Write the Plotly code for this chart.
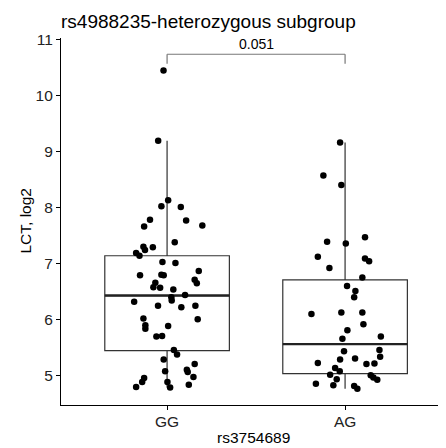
import plotly.graph_objects as go

# ---------------- data ----------------
categories = ["GG", "AG"]
cat_pos = [1, 2]

# GG group: jitter offsets from the category centre and LCT values (log2)
gg_jitter = [-0.05, 0.006, -0.032, 0.077, -0.096, -0.129, 0.107, 0.198, 0.043, -0.133,
             -0.080, -0.124, -0.174, -0.155, -0.026, 0.047, -0.152, -0.032, -0.019, 0.178,
             0.155, 0.167, -0.066, -0.077, -0.039, 0.035, 0.101, 0.024, 0.026, -0.185,
             -0.051, 0.080, 0.159, -0.133, 0.172, -0.122, -0.122, 0.006, -0.060, -0.028,
             0.038, 0.056, -0.019, 0.155, -0.011, 0.111, 0.116, 0.148, -0.129, -0.140,
             -0.174, 0.002, 0.017, 0.122, -0.02]
gg_values = [9.19, 8.13, 8.02, 8.01, 7.78, 7.66, 7.77, 7.68, 7.38, 7.30,
             7.29, 7.24, 7.19, 7.14, 7.03, 7.01, 6.79, 6.80, 6.79, 6.87,
             6.71, 6.65, 6.66, 6.58, 6.57, 6.54, 6.44, 6.40, 6.34, 6.32,
             6.25, 6.22, 6.25, 6.02, 6.01, 5.90, 5.84, 5.89, 5.70, 5.71,
             5.46, 5.38, 5.29, 5.21, 5.08, 5.11, 5.07, 4.98, 4.96, 4.89,
             4.80, 4.89, 4.79, 4.84, 10.44]

# AG group
ag_jitter = [-0.028, -0.122, -0.021, -0.101, 0.004, 0.112, -0.153, 0.112, 0.135, -0.088,
             0.097, 0.011, 0.058, 0.051, -0.189, -0.021, 0.097, 0.103, 0.013, -0.015,
             0.201, 0.193, -0.006, 0.197, -0.028, 0.056, -0.153, 0.120, 0.165, -0.056,
             -0.030, -0.084, -0.047, 0.144, 0.159, 0.181, -0.164, -0.066, 0.051, 0.069]
ag_values = [9.16, 8.57, 8.40, 7.39, 7.36, 7.47, 7.12, 7.09, 7.04, 6.92,
             6.75, 6.60, 6.51, 6.40, 6.10, 6.13, 6.13, 5.92, 5.81, 5.66,
             5.70, 5.46, 5.44, 5.34, 5.29, 5.31, 5.23, 5.21, 5.22, 5.14,
             5.08, 5.02, 4.94, 5.01, 4.97, 4.93, 4.86, 4.83, 4.82, 4.77]

# box statistics (as drawn)
box_q1 = [5.45, 5.04]
box_median = [6.43, 5.565]
box_q3 = [7.14, 6.71]
box_low = [4.79, 4.77]
box_high = [9.19, 9.16]

p_value_label = "0.051"
bracket_y = 10.73
bracket_tip = 10.56

y_ticks = [5, 6, 7, 8, 9, 10, 11]

# ---------------- figure ----------------
FONT = "Liberation Sans, Arial, Helvetica, sans-serif"
box_w = 0.7
# the page body keeps an 8px margin, so the figure is sized to fit the window
FIG_W, FIG_H = 438, 440

fig = go.Figure()

fig.add_trace(go.Box(
    x=cat_pos, q1=box_q1, median=box_median, q3=box_q3,
    lowerfence=box_low, upperfence=box_high,
    width=box_w, whiskerwidth=0,
    line=dict(color="#333333", width=1.2),
    fillcolor="rgba(0,0,0,0)",
    boxpoints=False, showlegend=False, hoverinfo="skip",
))

# thicker median lines
for xc, m in zip(cat_pos, box_median):
    fig.add_trace(go.Scatter(
        x=[xc - box_w / 2, xc + box_w / 2], y=[m, m], mode="lines",
        line=dict(color="#222222", width=2.4), showlegend=False, hoverinfo="skip",
    ))

fig.add_trace(go.Scatter(
    x=[cat_pos[0] + j for j in gg_jitter], y=gg_values, mode="markers",
    marker=dict(color="black", size=6.5), showlegend=False,
))
fig.add_trace(go.Scatter(
    x=[cat_pos[1] + j for j in ag_jitter], y=ag_values, mode="markers",
    marker=dict(color="black", size=6.5), showlegend=False,
))

# significance bracket
bracket_color = "#777777"
fig.add_shape(type="line", x0=cat_pos[0], x1=cat_pos[0], y0=bracket_tip, y1=bracket_y,
              line=dict(color=bracket_color, width=1.2))
fig.add_shape(type="line", x0=cat_pos[0], x1=cat_pos[1], y0=bracket_y, y1=bracket_y,
              line=dict(color=bracket_color, width=1.2))
fig.add_shape(type="line", x0=cat_pos[1], x1=cat_pos[1], y0=bracket_tip, y1=bracket_y,
              line=dict(color=bracket_color, width=1.2))
fig.add_annotation(x=(cat_pos[0] + cat_pos[1]) / 2, y=bracket_y, text=p_value_label,
                   showarrow=False, yanchor="bottom", yshift=0,
                   font=dict(family=FONT, size=14, color="black"))

# axis titles
fig.add_annotation(xref="paper", yref="paper", x=0, y=0.5, xshift=-36, text="LCT, log2",
                   textangle=-90, showarrow=False, xanchor="center", yanchor="middle",
                   font=dict(family=FONT, size=15.5, color="black"))
fig.add_annotation(xref="paper", yref="paper", x=0.5, y=0, yshift=-32, text="rs3754689",
                   showarrow=False, xanchor="center", yanchor="middle",
                   font=dict(family=FONT, size=15.5, color="black"))

fig.update_layout(
    width=FIG_W, height=FIG_H,
    margin=dict(l=53, r=0, t=30, b=43),
    paper_bgcolor="white", plot_bgcolor="white",
    title=dict(text="rs4988235-heterozygous subgroup", xref="paper", x=0, xanchor="left",
               yref="container", y=1 - 13 / FIG_H, yanchor="middle",
               font=dict(family=FONT, size=19, color="black")),
    font=dict(family=FONT, color="black"),
    xaxis=dict(range=[0.404, 2.567], tickvals=cat_pos, ticktext=categories,
               showgrid=False, zeroline=False, showline=True, linecolor="black", linewidth=1.2,
               ticks="outside", ticklen=4, tickcolor="black", tickwidth=1, ticklabelstandoff=-2,
               tickfont=dict(family=FONT, size=15.5, color="#222222")),
    yaxis=dict(range=[4.48, 11.02], tickvals=y_ticks,
               showgrid=False, zeroline=False, showline=True, linecolor="black", linewidth=1.2,
               ticks="outside", ticklen=4, tickcolor="black", tickwidth=1,
               tickfont=dict(family=FONT, size=15.5, color="#222222")),
)

fig.write_html("out.html")
